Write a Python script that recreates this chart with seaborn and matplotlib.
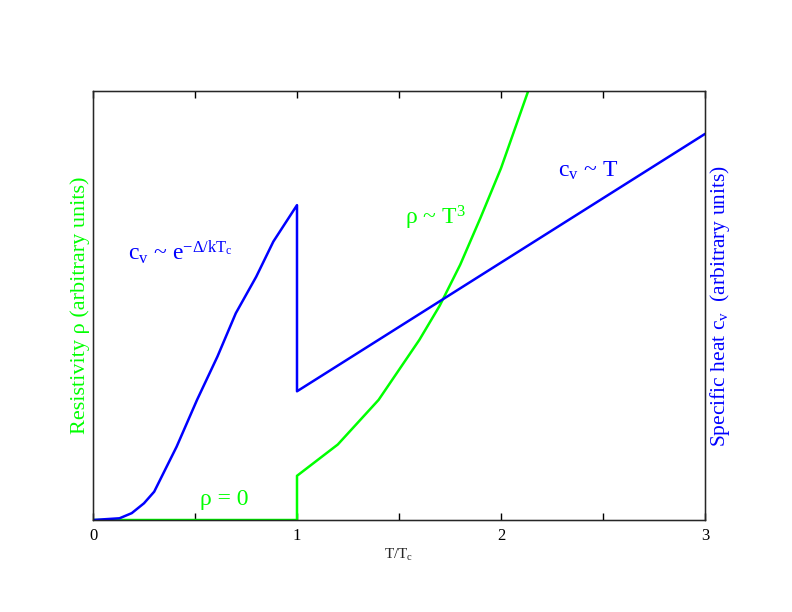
import numpy as np
import pandas as pd
import matplotlib
matplotlib.use("Agg")
import matplotlib.pyplot as plt
import seaborn as sns

# ---- data ----
cv_T = [0.0, 0.13, 0.19, 0.25, 0.30, 0.345, 0.41, 0.51, 0.61, 0.70, 0.80, 0.884, 1.0, 1.0, 3.0]
cv_val = [0.0, 0.04, 0.16, 0.39, 0.66, 1.09, 1.71, 2.80, 3.81, 4.82, 5.67, 6.49, 7.34, 3.0, 9.0]

rho_T = [0.0, 1.0, 1.0, 1.2, 1.4, 1.6, 1.7, 1.8, 1.9, 2.0, 2.2]
rho_val = [0.0, 0.0, 1.03, 1.76, 2.80, 4.20, 5.00, 5.95, 7.05, 8.20, 10.9]

x_ticks = [0, 1, 2, 3]
x_minor = [0.5, 1.5, 2.5]

BLUE = "#0000ff"
GREEN = "#00ff00"

sns.set_style("white")
plt.rcParams["font.family"] = ["Liberation Serif", "DejaVu Serif"]
plt.rcParams["mathtext.fontset"] = "custom"
plt.rcParams["mathtext.rm"] = "Liberation Serif"
plt.rcParams["mathtext.it"] = "Liberation Serif"
plt.rcParams["mathtext.default"] = "regular"

fig = plt.figure(figsize=(7.92, 6.12), dpi=100)
ax = fig.add_axes([93 / 792, 1 - 520 / 612, 612 / 792, 429 / 612])

cv_df = pd.DataFrame({"T": cv_T, "v": cv_val})
rho_df = pd.DataFrame({"T": rho_T, "v": rho_val})

sns.lineplot(data=rho_df, x="T", y="v", sort=False, color=GREEN, lw=1.8, ax=ax, estimator=None)
sns.lineplot(data=cv_df, x="T", y="v", sort=False, color=BLUE, lw=1.8, ax=ax, estimator=None)

ax.set_xlim(0, 3)
ax.set_ylim(0, 10)
ax.set_xticks(x_ticks)
ax.set_xticks(x_minor, minor=True)
ax.set_xticklabels([str(t) for t in x_ticks], fontsize=12)
ax.set_yticks([])
ax.tick_params(axis="x", which="both", direction="in", length=5, width=1,
               top=True, bottom=True, pad=6, colors="black")
for s in ax.spines.values():
    s.set_linewidth(1.0)
    s.set_color("black")
    s.set_visible(True)

ax.set_xlabel(r"T/T$_c$", fontsize=11, labelpad=2)
ax.set_ylabel(r"Resistivity ρ (arbitrary units)", fontsize=16, color=GREEN, labelpad=2)

ax2 = ax.twinx()
ax2.set_ylim(0, 10)
ax2.set_yticks([])
ax2.set_ylabel(r"Specific heat c$_v$  (arbitrary units)", fontsize=15.5, color=BLUE, labelpad=2)

ax.text(0.17, 6.06, r"c$_v$ ~ e$^{-\Delta/kT_c}$", fontsize=17, color=BLUE, va="baseline")
ax.text(0.525, 0.35, r"ρ = 0", fontsize=17, color=GREEN, va="baseline")
ax.text(1.53, 6.88, r"ρ ~ T$^3$", fontsize=17, color=GREEN, va="baseline")
ax.text(2.28, 8.0, r"c$_v$ ~ T", fontsize=17, color=BLUE, va="baseline")

fig.savefig("out.png", dpi=100)
